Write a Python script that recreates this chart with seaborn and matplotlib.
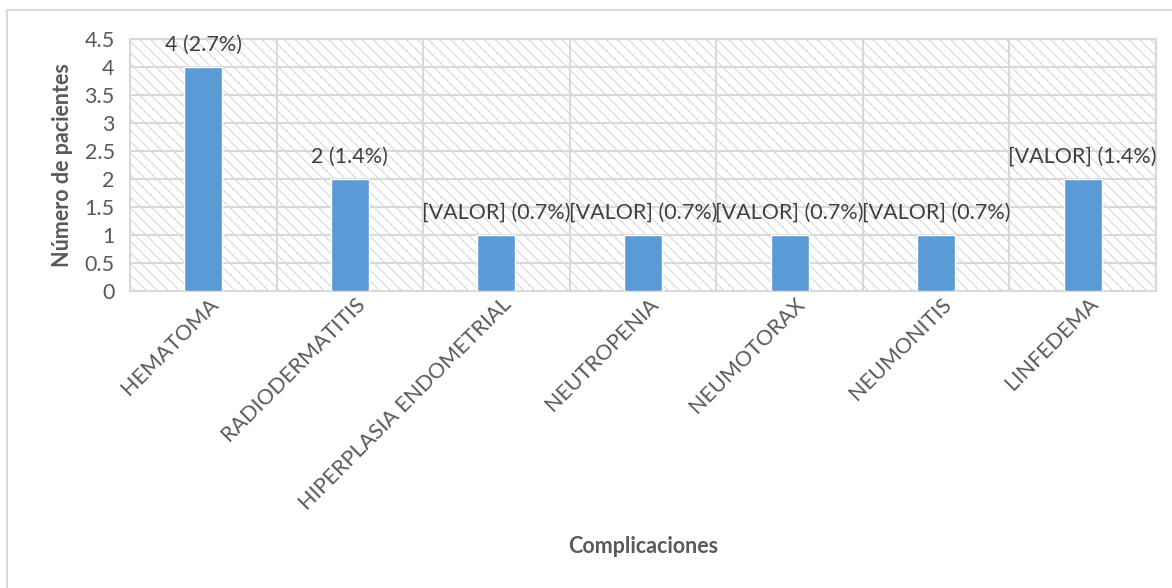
import matplotlib
matplotlib.use("Agg")
import matplotlib.pyplot as plt
import matplotlib.transforms as mtransforms
import seaborn as sns
import pandas as pd
from matplotlib.patches import Rectangle

categorias = ["HEMATOMA", "RADIODERMATITIS", "HIPERPLASIA ENDOMETRIAL", "NEUTROPENIA",
              "NEUMOTORAX", "NEUMONITIS", "LINFEDEMA"]
pacientes = [4, 2, 1, 1, 1, 1, 2]
etiquetas = ["4 (2.7%)", "2 (1.4%)", "[VALOR] (0.7%)", "[VALOR] (0.7%)",
             "[VALOR] (0.7%)", "[VALOR] (0.7%)", "[VALOR] (1.4%)"]
yticks = [0, 0.5, 1, 1.5, 2, 2.5, 3, 3.5, 4, 4.5]
ytick_labels = ["0", "0.5", "1", "1.5", "2", "2.5", "3", "3.5", "4", "4.5"]

sns.set_theme(style="white")
plt.rcParams["font.family"] = ["Lato", "DejaVu Sans"]
plt.rcParams["hatch.linewidth"] = 0.9

W, H = 1172, 588
fig = plt.figure(figsize=(W / 100, H / 100), dpi=100)
L, R, T, B = 130, 1156, 39, 291
ax = fig.add_axes([L / W, 1 - B / H, (R - L) / W, (B - T) / H])

df = pd.DataFrame({"cat": categorias, "n": pacientes})
sns.barplot(data=df, x="cat", y="n", color="#5B9BD5", width=0.26, ax=ax,
            saturation=1, zorder=3)

# hatched background
bg = Rectangle((0, 0), 1, 1, transform=ax.transAxes, facecolor="white",
               edgecolor="#dcdcdc", hatch="\\\\\\", linewidth=0, zorder=0.1)
ax.add_patch(bg)

ax.set_ylim(0, 4.5)
ax.set_xlim(-0.5, len(categorias) - 0.5)
ax.set_yticks(yticks)
ax.set_yticklabels(ytick_labels)
ax.set_axisbelow(True)
ax.yaxis.grid(True, color="#d9d9d9", linewidth=1.5, zorder=0.5)
for i in range(len(categorias) + 1):
    ax.axvline(i - 0.5, color="#d9d9d9", linewidth=1.5, zorder=0.5)
for s in ax.spines.values():
    s.set_color("#d9d9d9")
    s.set_linewidth(1.5)

ax.tick_params(axis="y", labelsize=15.5, labelcolor="#595959", length=0, pad=11)
ax.tick_params(axis="x", labelsize=15.5, labelcolor="#595959", length=0, pad=2)
offset = mtransforms.ScaledTranslation(5 / 100, 0, fig.dpi_scale_trans)
for lab in ax.get_xticklabels():
    lab.set_rotation(45)
    lab.set_ha("right")
    lab.set_rotation_mode("anchor")
    lab.set_transform(lab.get_transform() + offset)

for i, (v, t) in enumerate(zip(pacientes, etiquetas)):
    ax.annotate(t, (i, v), xytext=(0, 9), textcoords="offset points",
                ha="center", va="bottom", fontsize=15.5, color="#404040", zorder=4)

ax.set_xlabel("Complicaciones", fontsize=15.5, fontweight="bold", color="#595959")
ax.set_ylabel("Número de pacientes", fontsize=15.5, fontweight="bold", color="#595959")
ax.xaxis.set_label_coords(0.5, -(536 - B) / (B - T))
ax.yaxis.set_label_coords(-(L - 73) / (R - L), 0.5)

# chart border
fig.add_artist(Rectangle((7 / W, -0.1), 1.2, 1.1 - 9.5 / H, transform=fig.transFigure,
                         facecolor="none", edgecolor="#d9d9d9", linewidth=1.5))

fig.savefig("out.png", dpi=100)
